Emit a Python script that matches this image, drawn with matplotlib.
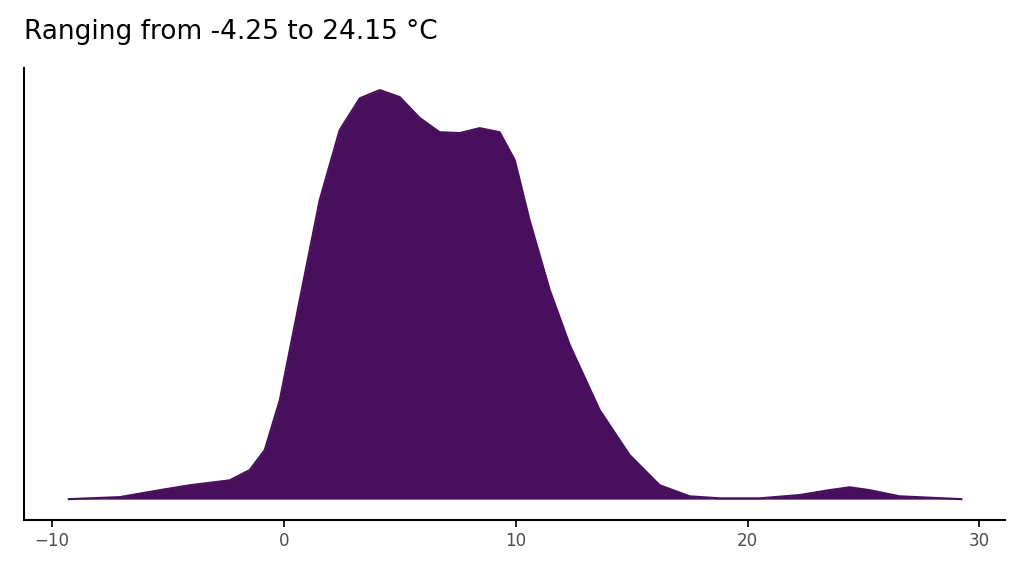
import matplotlib.pyplot as plt

# density estimate
temp = [-9.27, -7.07, -5.34, -4.05, -2.33, -1.47, -0.82, -0.17, 0.69, 1.55, 2.41, 3.28,
        4.14, 5.0, 5.86, 6.72, 7.59, 8.45, 9.31, 9.96, 10.6, 11.47, 12.33, 13.62,
        14.91, 16.21, 17.5, 18.79, 20.52, 22.24, 23.53, 24.4, 25.26, 26.55, 29.22]
density = [0, .0005, .0022, .0034, .0046, .0071, .0120, .0242, .0487, .0731, .0902, .0980,
           .1000, .0983, .0932, .0897, .0895, .0907, .0897, .0829, .0682, .0511, .0377, .0218,
           .0108, .0034, .0007, .0002, .0002, .0010, .0022, .0029, .0022, .0007, 0]

fig = plt.figure(figsize=(10.24, 5.76), dpi=100)
ax = fig.add_axes([24/1024, 56/576, 981/1024, 452/576])
ax.fill_between(temp, 0, density, color="#48105c", linewidth=0)
ax.plot(temp, density, color="#48105c", lw=1.5)

ax.set_xlim(-11.2, 31.1)
ax.set_ylim(-0.0051, 0.1054)
ax.set_xticks([-10, 0, 10, 20, 30])
ax.set_yticks([])
ax.tick_params(axis="x", labelsize=12, labelcolor="#4d4d4d", length=5, width=1.2)
for s in ["top", "right"]:
    ax.spines[s].set_visible(False)
for s in ["left", "bottom"]:
    ax.spines[s].set_linewidth(1.5)
fig.text(24/1024, 1 - 32/576, "Ranging from -4.25 to 24.15 °C", fontsize=19, va="center")

fig.savefig("out.png")
